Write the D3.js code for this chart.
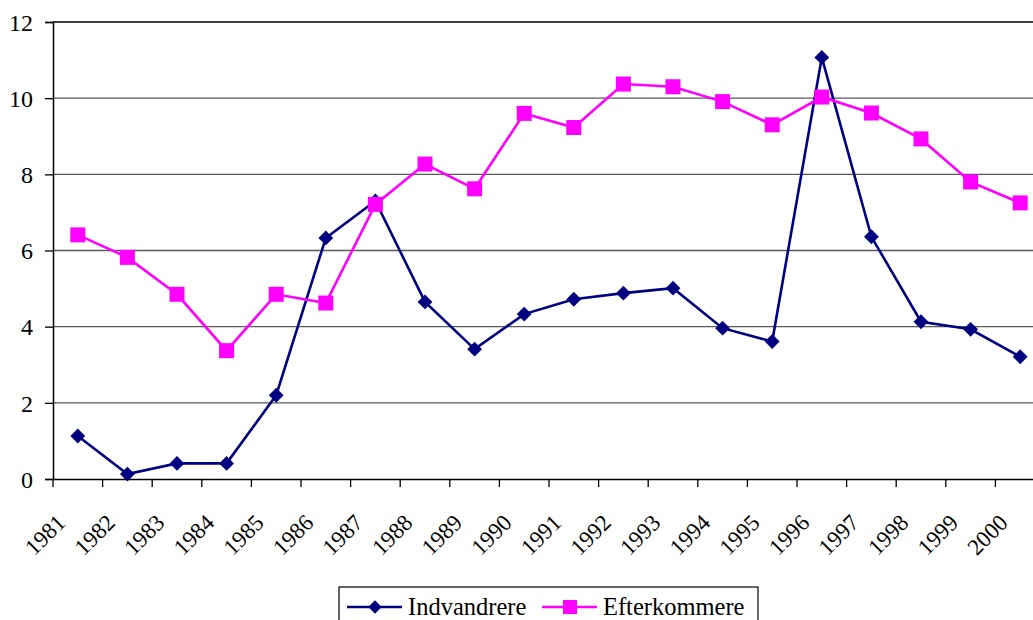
<!DOCTYPE html>
<html>
<head>
<meta charset="utf-8">
<script src="https://cdn.jsdelivr.net/npm/d3@7"></script>
<style>
  body { margin: 0; background: #fff; }
</style>
</head>
<body>
<svg id="chart" width="1033" height="620"></svg>
<script>
const years = ["1981","1982","1983","1984","1985","1986","1987","1988","1989","1990",
  "1991","1992","1993","1994","1995","1996","1997","1998","1999","2000"]
const indvandrere = [1.13, 0.13, 0.41, 0.41, 2.2, 6.33, 7.3, 4.65, 3.41, 4.33,
  4.72, 4.88, 5.01, 3.96, 3.61, 11.07, 6.36, 4.13, 3.93, 3.21]
const efterkommere = [6.41, 5.82, 4.85, 3.37, 4.85, 4.62, 7.21, 8.27, 7.62, 9.6,
  9.23, 10.37, 10.3, 9.91, 9.3, 10.03, 9.61, 8.93, 7.8, 7.25]
const yTicks = [0, 2, 4, 6, 8, 10, 12]

const FONT = "'Liberation Serif', 'Times New Roman', serif"
const svg = d3.select("#chart")
const plotLeft = 53, plotTop = 22, plotBottom = 479, plotRight = 1045

const x = d3.scaleBand().domain(years).range([plotLeft, plotRight])
const y = d3.scaleLinear().domain([0, 12]).range([plotBottom, plotTop])
const cx = d => x(d) + x.bandwidth() / 2

// gridlines
svg.append("g").selectAll("line")
  .data(yTicks.filter(t => t > 0 && t < 12))
  .enter().append("line")
  .attr("x1", plotLeft).attr("x2", plotRight)
  .attr("y1", d => y(d)).attr("y2", d => y(d))
  .attr("stroke", "#5a5a5a").attr("stroke-width", 1.3)

// top border
svg.append("line")
  .attr("x1", plotLeft).attr("x2", plotRight)
  .attr("y1", plotTop).attr("y2", plotTop)
  .attr("stroke", "#000").attr("stroke-width", 1.5)

// y axis
const yAxis = d3.axisLeft(y).tickValues(yTicks).tickSize(8).tickPadding(12)
const gy = svg.append("g").attr("transform", "translate(" + plotLeft + ",0)").call(yAxis)
gy.select(".domain").attr("stroke", "#000").attr("stroke-width", 1.5)
gy.selectAll(".tick line").attr("stroke", "#000").attr("stroke-width", 1.3)
gy.selectAll("text")
  .style("font-family", FONT).style("font-size", "24px")
  .attr("fill", "#000").attr("dy", "0.34em")

// x axis
const xAxis = d3.axisBottom(x).tickSize(0).tickFormat("")
const gx = svg.append("g").attr("transform", "translate(0," + plotBottom + ")").call(xAxis)
gx.select(".domain").attr("stroke", "#000").attr("stroke-width", 1.5)
gx.selectAll(".tick").remove()
gx.selectAll(".tickmark")
  .data(years)
  .enter().append("line")
  .attr("x1", d => x(d)).attr("x2", d => x(d))
  .attr("y1", 0).attr("y2", 8)
  .attr("stroke", "#000").attr("stroke-width", 1.3)
gx.selectAll(".lab")
  .data(years)
  .enter().append("text")
  .attr("transform", d => "translate(" + (cx(d) - 11) + ",45) rotate(-45)")
  .attr("text-anchor", "end")
  .attr("fill", "#000")
  .style("font-family", FONT).style("font-size", "23px")
  .text(d => d)

const line = d3.line().x((d, i) => cx(years[i])).y(d => y(d))

// Indvandrere
svg.append("path").datum(indvandrere)
  .attr("d", line).attr("fill", "none")
  .attr("stroke", "#000080").attr("stroke-width", 2.6)
svg.append("g").selectAll("path")
  .data(indvandrere)
  .enter().append("path")
  .attr("d", d3.symbol().type(d3.symbolSquare).size(110))
  .attr("transform", (d, i) => "translate(" + cx(years[i]) + "," + y(d) + ") rotate(45)")
  .attr("fill", "#000080")

// Efterkommere
svg.append("path").datum(efterkommere)
  .attr("d", line).attr("fill", "none")
  .attr("stroke", "#ff00ff").attr("stroke-width", 2.6)
svg.append("g").selectAll("rect")
  .data(efterkommere)
  .enter().append("rect")
  .attr("x", (d, i) => cx(years[i]) - 7.5)
  .attr("y", d => y(d) - 7.5)
  .attr("width", 15).attr("height", 15)
  .attr("fill", "#ff00ff")

// legend
const lg = svg.append("g")
lg.append("rect")
  .attr("x", 339).attr("y", 587).attr("width", 419).attr("height", 40)
  .attr("fill", "#fff").attr("stroke", "#000").attr("stroke-width", 1.2)
const legendItems = [
  { name: "Indvandrere", color: "#000080", x: 347, marker: "diamond" },
  { name: "Efterkommere", color: "#ff00ff", x: 542, marker: "square" }
]
legendItems.forEach(it => {
  lg.append("line")
    .attr("x1", it.x).attr("x2", it.x + 55)
    .attr("y1", 607).attr("y2", 607)
    .attr("stroke", it.color).attr("stroke-width", 2.6)
  if (it.marker === "diamond") {
    lg.append("path")
      .attr("d", d3.symbol().type(d3.symbolSquare).size(90))
      .attr("transform", "translate(" + (it.x + 28) + ",607) rotate(45)")
      .attr("fill", it.color)
  } else {
    lg.append("rect")
      .attr("x", it.x + 21).attr("y", 600).attr("width", 14).attr("height", 14)
      .attr("fill", it.color)
  }
  lg.append("text")
    .attr("x", it.x + 61).attr("y", 615)
    .attr("fill", "#000")
    .style("font-family", FONT).style("font-size", "24.5px")
    .text(it.name)
})
</script>
</body>
</html>
